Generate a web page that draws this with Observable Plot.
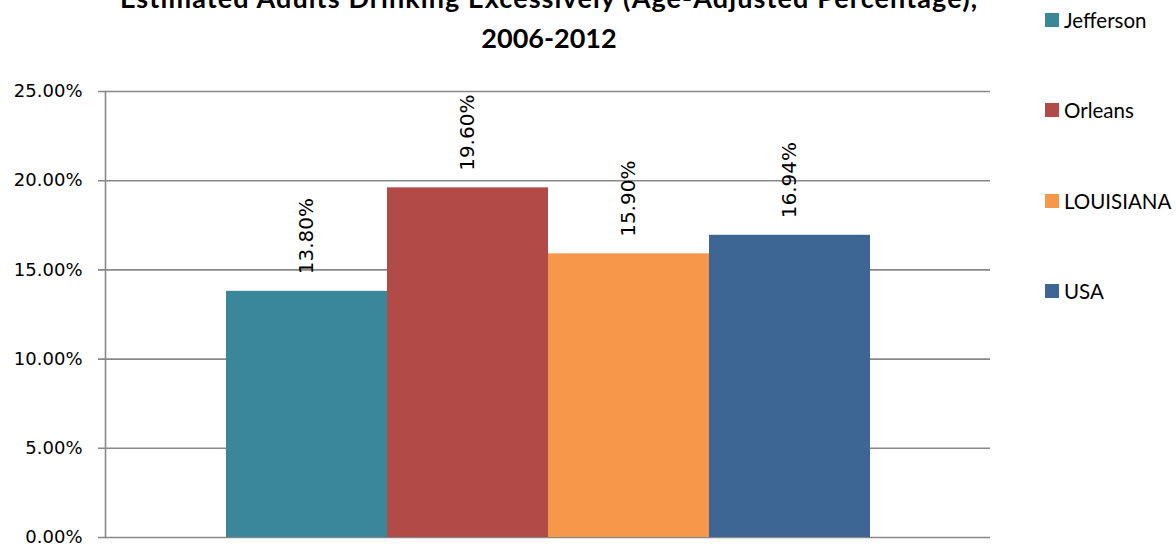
<!DOCTYPE html>
<html>
<head>
<meta charset="utf-8">
<script src="https://cdn.jsdelivr.net/npm/d3@7"></script>
<script src="https://cdn.jsdelivr.net/npm/@observablehq/plot@0.6"></script>
<style>
  html, body { margin: 0; padding: 0; background: #fff; }
  #wrap { position: relative; width: 1176px; height: 545px; overflow: hidden; }
  #title { position: absolute; left: 0; width: 1098px; top: -22px; text-align: center;
    font-family: Lato, "Open Sans", sans-serif; font-weight: bold; font-size: 27px; line-height: 40px; color: #000; }
  #title .l1 { letter-spacing: 1.1px; }
  .leg { position: absolute; left: 1045px; font-family: Lato, "Open Sans", sans-serif; font-size: 20.5px; color: #000; white-space: nowrap; }
  .leg .sw { position: absolute; left: 0; top: 0; width: 14px; height: 14px; }
  .leg .lb { position: absolute; left: 19px; top: -6px; line-height: 26px; }
  #chart { position: absolute; left: 0; top: 0; }
</style>
</head>
<body>
<div id="wrap">
  <div id="chart"></div>
  <div id="title"><span class="l1">Estimated Adults Drinking Excessively (Age-Adjusted Percentage),</span><br>2006-2012</div>
  <div id="legend"></div>
</div>
<script>
const series = ["Jefferson", "Orleans", "LOUISIANA", "USA"];
const values = [13.80, 19.60, 15.90, 16.94];
const colors = ["#3B879A", "#B24A48", "#F69749", "#3E6695"];
const yTicks = [0, 5, 10, 15, 20, 25];

const data = series.map((s, i) => ({name: s, value: values[i]}));
const fmt = d => d.toFixed(2) + "%";
const font = "'DejaVu Sans', sans-serif";

const chart = Plot.plot({
  width: 1176,
  height: 545,
  marginTop: 91,
  marginBottom: 8,
  marginLeft: 105,
  marginRight: 186,
  style: {background: "transparent", fontFamily: font},
  x: {domain: series, range: [226, 870], padding: 0, axis: null},
  y: {domain: [0, 25], axis: null},
  color: {domain: series, range: colors},
  marks: [
    Plot.ruleY(yTicks, {stroke: "#888888", strokeWidth: 1.6, insetLeft: -7}),
    Plot.frame({anchor: "left", stroke: "#888888", strokeWidth: 1.6}),
    Plot.axisY({ticks: yTicks, tickFormat: fmt, tickSize: 0, tickPadding: 23, fontSize: 18, color: "#000", label: null, fontFamily: font}),
    Plot.barY(data, {x: "name", y: "value", fill: "name"}),
    Plot.text(data, {x: "name", y: "value", text: d => fmt(d.value), rotate: -90, textAnchor: "start", dy: -17, fontSize: 20, fill: "#000", fontFamily: font})
  ]
});
document.getElementById("chart").appendChild(chart);

const legend = document.getElementById("legend");
series.forEach((s, i) => {
  const d = document.createElement("div");
  d.className = "leg";
  d.style.top = (13 + i * 90.3) + "px";
  d.innerHTML = `<span class="sw" style="background:${colors[i]}"></span><span class="lb">${s}</span>`;
  legend.appendChild(d);
});
</script>
</body>
</html>
